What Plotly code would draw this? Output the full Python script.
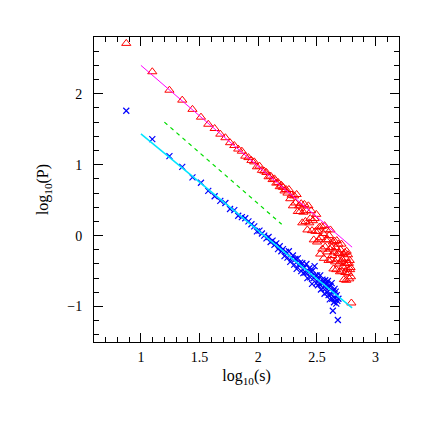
import numpy as np
import plotly.graph_objects as go

# bin centres in s (shared by both samples)
s_bins = [7.5, 12.5, 17.5, 22.5, 27.5, 32.5, 37.5, 42.5, 47.5, 52.5,
          57.5, 62.5, 67.5, 72.5, 77.5, 82.5, 87.5, 92.5, 97.5, 102.5,
          107.5, 112.5, 117.5, 122.5, 127.5, 132.5, 137.5, 142.5, 147.5, 152.5,
          157.5, 162.5, 167.5, 172.5, 177.5, 182.5, 187.5, 192.5, 197.5, 202.5,
          207.5, 212.5, 217.5, 222.5, 227.5, 232.5, 237.5, 242.5, 247.5, 252.5,
          257.5, 262.5, 267.5, 272.5, 277.5, 282.5, 287.5, 292.5, 297.5, 302.5,
          307.5, 312.5, 317.5, 322.5, 327.5, 332.5, 337.5, 342.5, 347.5, 352.5,
          357.5, 362.5, 367.5, 372.5, 377.5, 382.5, 387.5, 392.5, 397.5, 402.5,
          407.5, 412.5, 417.5, 422.5, 427.5, 432.5, 437.5, 442.5, 447.5, 452.5,
          457.5, 462.5, 467.5, 472.5, 477.5, 482.5, 487.5, 492.5, 497.5, 502.5,
          507.5, 512.5, 517.5, 522.5, 527.5, 532.5, 537.5, 542.5, 547.5, 552.5,
          557.5, 562.5, 567.5, 572.5, 577.5, 582.5, 587.5, 592.5, 597.5, 602.5,
          607.5, 612.5, 617.5, 622.5]

# log10(P), red triangles
red_logp = [2.71, 2.31, 2.05, 1.91, 1.78, 1.67, 1.57, 1.51, 1.43, 1.38,
            1.31, 1.27, 1.22, 1.19, 1.12, 1.10, 1.06, 1.04, 0.97, 0.98,
            0.92, 0.91, 0.89, 0.83, 0.84, 0.79, 0.80, 0.74, 0.75, 0.69,
            0.71, 0.68, 0.63, 0.65, 0.60, 0.65, 0.52, 0.57, 0.42, 0.56,
            0.46, 0.58, 0.34, 0.42, 0.34, 0.45, 0.18, 0.33, 0.44, 0.20,
            0.35, 0.08, 0.42, 0.18, 0.24, 0.35, 0.07, 0.21, -0.06, 0.24,
            0.06, 0.30, -0.09, 0.06, -0.06, 0.12, -0.26, -0.03, 0.13, -0.19,
            0.03, -0.32, 0.14, -0.16, -0.06, 0.08, -0.23, -0.06, -0.35, 0.00,
            -0.19, 0.08, -0.34, -0.17, -0.28, -0.09, -0.47, -0.23, -0.08, -0.37,
            -0.17, -0.48, -0.07, -0.33, -0.25, -0.12, -0.40, -0.25, -0.51, -0.20,
            -0.36, -0.12, -0.50, -0.34, -0.44, -0.26, -0.62, -0.39, -0.24, -0.52,
            -0.32, -0.63, -0.22, -0.47, -0.39, -0.27, -0.53, -0.39, -0.61, -0.35,
            -0.48, -0.45, -0.58, -0.95]

# log10(P), blue crosses
blue_logp = [1.76, 1.36, 1.12, 0.97, 0.82, 0.745, 0.63, 0.555, 0.49, 0.46,
             0.375, 0.36, 0.28, 0.26, 0.245, 0.20, 0.16, 0.13, 0.06, 0.07,
             0.03, 0.00, -0.04, -0.02, -0.09, -0.07, -0.13, -0.11, -0.19, -0.15,
             -0.22, -0.19, -0.29, -0.23, -0.31, -0.22, -0.37, -0.32, -0.28, -0.41,
             -0.33, -0.47, -0.32, -0.42, -0.38, -0.50, -0.39, -0.53, -0.45, -0.52,
             -0.40, -0.60, -0.51, -0.46, -0.59, -0.51, -0.68, -0.49, -0.60, -0.43,
             -0.56, -0.67, -0.56, -0.70, -0.61, -0.68, -0.56, -0.76, -0.67, -0.62,
             -0.74, -0.66, -0.82, -0.63, -0.74, -0.68, -0.80, -0.64, -0.84, -0.73,
             -0.90, -0.71, -0.83, -0.67, -0.89, -1.06, -0.78, -0.94, -0.75, -0.88,
             -0.79, -0.96, -0.84, -0.92, -1.19, -0.89]

# fitted power laws (end points in log10 s, log10 P)
fit_red_x, fit_red_y = [1.0, 2.8], [2.40, -0.163]
fit_blue_x, fit_blue_y = [1.0, 2.8], [1.435, -1.02]
ref_x, ref_y = [1.2, 2.2], [1.60, 0.16]

log_s = np.log10(s_bins)

fig = go.Figure()

fig.add_trace(go.Scatter(
    x=log_s[:len(red_logp)], y=red_logp, mode='markers',
    marker=dict(symbol='triangle-up-open', size=8, color='#ff0000',
                line=dict(width=1, color='#ff0000'))
))
fig.add_trace(go.Scatter(
    x=log_s[:len(blue_logp)], y=blue_logp, mode='markers',
    marker=dict(symbol='x-thin', size=6, color='#0000ff',
                line=dict(width=1.2, color='#0000ff'))
))
fig.add_trace(go.Scatter(x=fit_red_x, y=fit_red_y, mode='lines',
                         line=dict(color='#ff00ff', width=1)))
fig.add_trace(go.Scatter(x=fit_blue_x, y=fit_blue_y, mode='lines',
                         line=dict(color='#00e5ff', width=1.5)))
fig.add_trace(go.Scatter(x=ref_x, y=ref_y, mode='lines',
                         line=dict(color='#00dd00', width=1.2, dash='4px,4px')))

axis_style = dict(
    showgrid=False, zeroline=False,
    showline=True, linecolor='black', linewidth=1, mirror='allticks',
    ticks='inside', ticklen=9, tickcolor='black', tickwidth=1,
    tickfont=dict(family='Liberation Serif', size=14, color='black'),
)

fig.update_xaxes(
    range=[0.6, 3.2], dtick=0.5, tick0=0, ticklabelstandoff=2,
    minor=dict(ticks='inside', ticklen=5, dtick=0.1, tickcolor='black', showgrid=False),
    title=dict(text='log<sub>10</sub>(s)', standoff=6,
               font=dict(family='Liberation Serif', size=16, color='black')),
    **axis_style
)
fig.update_yaxes(
    range=[-1.5, 2.8], dtick=1, tick0=0, ticklabelstandoff=8,
    minor=dict(ticks='inside', ticklen=5, dtick=0.2, tickcolor='black', showgrid=False),
    title=dict(text='log<sub>10</sub>(P)', standoff=14,
               font=dict(family='Liberation Serif', size=16, color='black')),
    **axis_style
)

# page body has an 8px margin, so the figure is 420 px and sits at (8, 8)
fig.update_layout(
    width=420, height=420,
    margin=dict(l=86, r=29, t=29, b=86),
    plot_bgcolor='white', paper_bgcolor='white',
    showlegend=False,
)

fig.write_html("out.html")
